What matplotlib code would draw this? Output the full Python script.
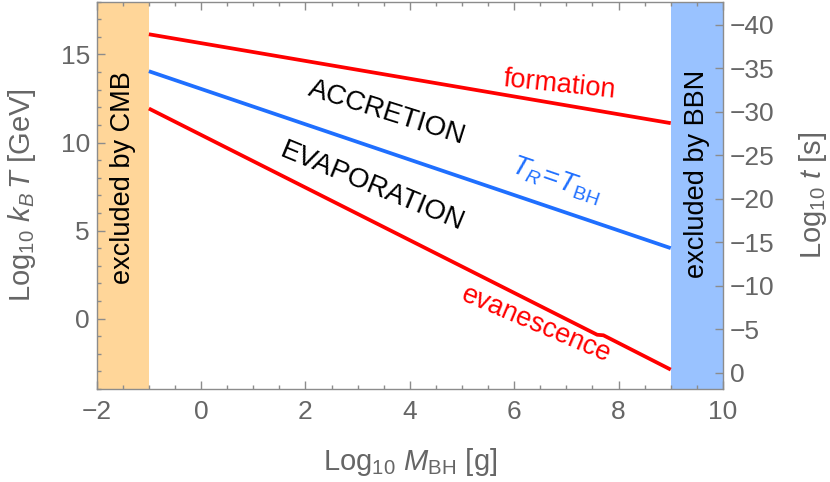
import numpy as np
import matplotlib
matplotlib.use("Agg")
import matplotlib.pyplot as plt
from matplotlib.ticker import MultipleLocator

plt.rcParams["font.family"] = ["Liberation Sans", "DejaVu Sans"]
plt.rcParams["mathtext.fontset"] = "custom"
plt.rcParams["mathtext.rm"] = "Liberation Sans"
plt.rcParams["mathtext.it"] = "Liberation Sans:italic"
plt.rcParams["mathtext.bf"] = "Liberation Sans:bold"

# data (log10 M_BH [g] vs log10 k_B T [GeV])
mass_ends = [-1, 9]
formation_T = [16.15, 11.1]
equality_T = [14.05, 4.0]
evan_mass = [-1, 7.59, 7.71, 9]
evan_T = [11.93, -0.92, -0.95, -2.9]

cmb_band = (-2, -1)
bbn_band = (9, 10)

time_ticks = list(range(-40, 1, 5))

red = "#ff0000"
blue = "#1f6fff"
grey = "#666666"
frame = "#8c8c8c"

fig = plt.figure(figsize=(8.3, 4.82), dpi=100)
ax = fig.add_axes([0.1165, 0.193, 0.7545, 0.8035])

ax.axvspan(*cmb_band, color="#ffd699", lw=0, zorder=0)
ax.axvspan(*bbn_band, color="#99c2ff", lw=0, zorder=0)

ax.plot(mass_ends, formation_T, color=red, lw=2.7, solid_capstyle="butt")
ax.plot(mass_ends, equality_T, color=blue, lw=2.7, solid_capstyle="butt")
ax.plot(evan_mass, evan_T, color=red, lw=2.7, solid_capstyle="butt")

ax.set_xlim(-2, 10)
ax.set_ylim(-4, 18)

# annotations
fs = 19.5
ax.text(6.86, 13.29, "formation", color=red, fontsize=fs, rotation=-6,
        ha="center", va="center", rotation_mode="anchor")
ax.text(3.56, 11.67, "ACCRETION", color="black", fontsize=fs + 0.5, rotation=-17.5,
        ha="center", va="center", rotation_mode="anchor")
ax.text(6.8, 7.85, r"$T_R\!=\!T_{\rm BH}$", color=blue, fontsize=fs + 0.5, rotation=-19,
        ha="center", va="center", rotation_mode="anchor")
ax.text(3.28, 7.47, "EVAPORATION", color="black", fontsize=fs + 0.5, rotation=-22.4,
        ha="center", va="center", rotation_mode="anchor")
ax.text(6.43, -0.38, "evanescence", color=red, fontsize=fs, rotation=-23,
        ha="center", va="center", rotation_mode="anchor")
ax.text(-1.5, 8.02, "excluded by CMB", color="black", fontsize=fs, rotation=90,
        ha="center", va="center")
ax.text(9.5, 8.2, "excluded by BBN", color="black", fontsize=fs, rotation=90,
        ha="center", va="center")

# frame and ticks
for s in ax.spines.values():
    s.set_color(frame)
    s.set_linewidth(1.0)
    s.set_zorder(5)

ax.xaxis.set_major_locator(MultipleLocator(2))
ax.xaxis.set_minor_locator(MultipleLocator(0.5))
ax.yaxis.set_major_locator(MultipleLocator(5))
ax.yaxis.set_minor_locator(MultipleLocator(1))
ax.tick_params(axis="x", which="both", direction="in", top=True, bottom=True,
               color=frame, labelcolor=grey, labelsize=19, pad=8)
ax.tick_params(axis="y", which="both", direction="in", left=True, right=False,
               color=frame, labelcolor=grey, labelsize=19, pad=5)
ax.tick_params(which="major", length=5.5, width=1)
ax.tick_params(which="minor", length=3, width=1)

ax.set_xlabel(r"Log$_{10}$ $M_{\rm BH}$ [g]", fontsize=21, color=grey, labelpad=16)
ax.set_ylabel(r"Log$_{10}$ $k_B\,T$ [GeV]", fontsize=21, color=grey, labelpad=16)

ax2 = ax.twinx()
ax2.set_ylim(1.88, -42.68)
ax2.set_yticks(time_ticks)
ax2.tick_params(axis="y", direction="in", length=5.5, width=1, color=frame,
                labelcolor=grey, labelsize=19, pad=5)
for s in ax2.spines.values():
    s.set_visible(False)
ax2.set_ylabel(r"Log$_{10}$ $t$ [s]", fontsize=21, color=grey, labelpad=16)

fig.savefig("out.png", dpi=100)
